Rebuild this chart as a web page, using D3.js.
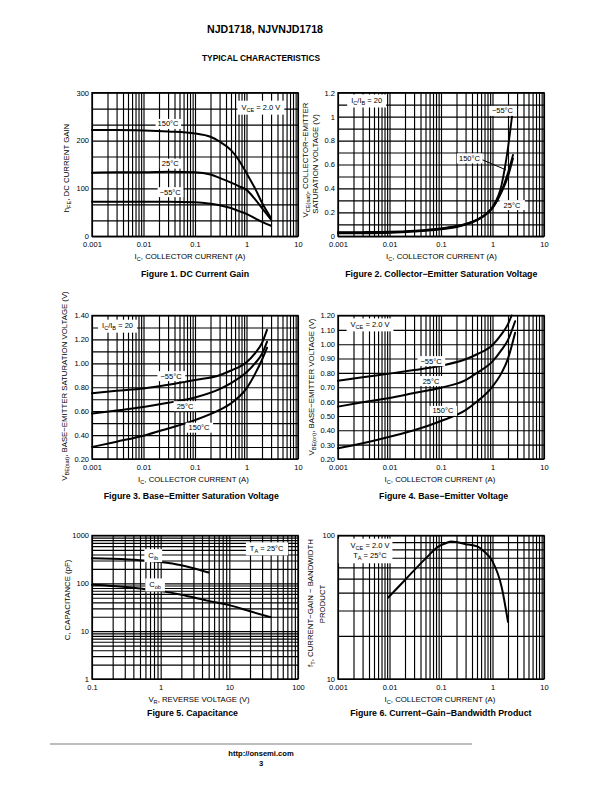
<!DOCTYPE html>
<html><head><meta charset="utf-8">
<script src="https://cdn.jsdelivr.net/npm/d3@7"></script>
<style>
body{margin:0;background:#fff}
svg{display:block}
text{font-family:"Liberation Sans",Arial,Helvetica,sans-serif;fill:#000}
</style>
</head><body>
<svg id="page" width="612" height="792"></svg>
<script>
// ---------------- DATA ----------------
// Figure 1: DC current gain vs collector current
const fig1Ic      = [0.001, 0.003, 0.01, 0.03, 0.1, 0.2, 0.3, 0.5, 0.7, 1, 1.5, 2, 3];
const fig1Hfe150  = [222, 222, 221, 219, 215, 208, 198, 180, 160, 132, 98, 70, 38];
const fig1Hfe25   = [133, 134, 134, 135, 134, 129, 122, 112, 105, 97, 76, 59, 35];
const fig1HfeM55  = [72, 72, 72, 72, 71, 68, 65, 59, 53, 47, 37, 30, 22];
const fig1XTicks  = [0.001, 0.01, 0.1, 1, 10];
const fig1YTicks  = [0, 100, 200, 300];

// Figure 2: VCE(sat)
const fig2Ic      = [0.001, 0.003, 0.01, 0.03, 0.1, 0.2, 0.3, 0.5, 0.7, 1, 1.5, 2, 2.5];
const fig2VceM55  = [0.025, 0.026, 0.030, 0.040, 0.058, 0.078, 0.098, 0.135, 0.175, 0.245, 0.43, 0.74, 1.07];
const fig2Vce25   = [0.030, 0.031, 0.034, 0.043, 0.062, 0.082, 0.100, 0.135, 0.172, 0.235, 0.38, 0.53, 0.68];
const fig2Vce150  = [0.034, 0.035, 0.038, 0.047, 0.066, 0.086, 0.104, 0.140, 0.178, 0.240, 0.37, 0.50, 0.65];
const fig2XTicks  = [0.001, 0.01, 0.1, 1, 10];
const fig2YTicks  = [0, 0.2, 0.4, 0.6, 0.8, 1, 1.2];

// Figure 3: VBE(sat)
const fig3Ic      = [0.001, 0.003, 0.01, 0.03, 0.1, 0.3, 0.5, 1, 1.5, 2, 2.5];
const fig3VbeM55  = [0.75, 0.77, 0.79, 0.82, 0.86, 0.90, 0.94, 1.01, 1.09, 1.17, 1.28];
const fig3Vbe25   = [0.58, 0.605, 0.635, 0.67, 0.715, 0.785, 0.835, 0.925, 1.005, 1.08, 1.18];
const fig3Vbe150  = [0.30, 0.345, 0.395, 0.455, 0.525, 0.61, 0.665, 0.79, 0.92, 1.03, 1.13];
const fig3XTicks  = [0.001, 0.01, 0.1, 1, 10];
const fig3YTicks  = [0.2, 0.4, 0.6, 0.8, 1.0, 1.2, 1.4];

// Figure 4: VBE(on)
const fig4IcM55   = [0.001, 0.003, 0.01, 0.03, 0.1, 0.3, 0.5, 1, 1.5, 2, 2.35];
const fig4VbeM55  = [0.745, 0.77, 0.795, 0.82, 0.85, 0.895, 0.93, 0.995, 1.07, 1.14, 1.20];
const fig4Ic      = [0.001, 0.003, 0.01, 0.03, 0.1, 0.3, 0.5, 1, 1.5, 2, 2.75];
const fig4Vbe25   = [0.565, 0.595, 0.625, 0.66, 0.697, 0.75, 0.80, 0.88, 0.96, 1.03, 1.16];
const fig4Vbe150  = [0.275, 0.31, 0.355, 0.40, 0.465, 0.54, 0.60, 0.705, 0.80, 0.90, 1.08];
const fig4XTicks  = [0.001, 0.01, 0.1, 1, 10];
const fig4YTicks  = [0.2, 0.3, 0.4, 0.5, 0.6, 0.7, 0.8, 0.9, 1.0, 1.1, 1.2];

// Figure 5: capacitance
const fig5VrCib   = [0.1, 0.2, 0.5, 1, 2, 3, 5];
const fig5Cib     = [335, 325, 304, 278, 238, 207, 168];
const fig5VrCob   = [0.1, 0.2, 0.5, 1, 2, 5, 10, 20, 40];
const fig5Cob     = [93, 88, 78, 69, 58, 43, 35, 26, 19.5];
const fig5XTicks  = [0.1, 1, 10, 100];
const fig5YTicks  = [1, 10, 100, 1000];

// Figure 6: fT
const fig6Ic      = [0.0095, 0.02, 0.05, 0.09, 0.12, 0.16, 0.2, 0.3, 0.5, 0.7, 1, 1.5, 2];
const fig6Ft      = [37, 49, 69, 84, 88, 91, 90, 87, 84, 77, 66, 44, 25];
const fig6XTicks  = [0.001, 0.01, 0.1, 1, 10];
const fig6YTicks  = [10, 100];

// ---------------- DRAWING ----------------
const svg = d3.select("#page");
const FS = 7.5, TFS = 7.8, SUB = 5.6;

function rich(sel, str, subSize) {
  const re = /_\{([^}]*)\}/g; let last = 0, m; const parts = [];
  while ((m = re.exec(str))) {
    if (m.index > last) parts.push([str.slice(last, m.index), false]);
    parts.push([m[1], true]); last = re.lastIndex;
  }
  if (last < str.length) parts.push([str.slice(last), false]);
  let shifted = 0;
  parts.forEach(([t, isSub]) => {
    const ts = sel.append("tspan").text(t);
    if (isSub) { ts.attr("font-size", subSize || SUB); if (!shifted) { ts.attr("dy", 2); shifted = 2; } }
    else if (shifted) { ts.attr("dy", -shifted); shifted = 0; }
  });
  return sel;
}

function logGrid(dom) {
  const out = [];
  const a = Math.round(Math.log10(dom[0])), b = Math.round(Math.log10(dom[1]));
  for (let k = a; k < b; k++) for (let i = 1; i <= 9; i++) out.push(i * Math.pow(10, k));
  out.push(Math.pow(10, b));
  return out;
}

function panel(cfg) {
  const g = svg.append("g");
  const [L, R] = cfg.xr, [T, B] = cfg.yr;
  const x = d3.scaleLog().domain(cfg.xDomain).range([L, R]);
  const y = (cfg.yLog ? d3.scaleLog() : d3.scaleLinear()).domain(cfg.yDomain).range([B, T]);
  const xg = logGrid(cfg.xDomain);
  const yg = cfg.yLog ? logGrid(cfg.yDomain)
    : d3.range(cfg.yDiv + 1).map(i => cfg.yDomain[0] + i * (cfg.yDomain[1] - cfg.yDomain[0]) / cfg.yDiv);

  // grid via axes
  const gx = g.append("g").attr("transform", `translate(0,${B})`)
    .call(d3.axisBottom(x).tickValues(xg).tickSize(-(B - T)).tickFormat(""));
  const gy = g.append("g").attr("transform", `translate(${L},0)`)
    .call(d3.axisLeft(y).tickValues(yg).tickSize(-(R - L)).tickFormat(""));
  [gx, gy].forEach(s => { s.select(".domain").remove(); s.selectAll("line").attr("stroke", "#000").attr("stroke-width", 1.15); });

  // tick labels via axes
  const lx = g.append("g").attr("transform", `translate(0,${B})`)
    .call(d3.axisBottom(x).tickValues(cfg.xTicks).tickSize(0).tickPadding(5.5).tickFormat(d => String(d)));
  const ly = g.append("g").attr("transform", `translate(${L},0)`)
    .call(d3.axisLeft(y).tickValues(cfg.yTicks).tickSize(0).tickPadding(3).tickFormat(cfg.yFmt || (d => String(d))));
  [lx, ly].forEach(s => { s.select(".domain").remove(); s.selectAll("text").attr("font-size", FS).attr("font-family", null).attr("fill", "#000"); });

  // frame
  g.append("rect").attr("x", L).attr("y", T).attr("width", R - L).attr("height", B - T)
    .attr("fill", "none").attr("stroke", "#000").attr("stroke-width", 1.4);

  // curves
  const line = d3.line().x(d => x(d[0])).y(d => y(d[1])).curve(d3.curveMonotoneX);
  cfg.series.forEach(s => {
    g.append("path").datum(d3.zip(s.x, s.y)).attr("d", line)
      .attr("fill", "none").attr("stroke", "#000").attr("stroke-width", s.w || 2)
      .attr("stroke-linejoin", "round").attr("stroke-linecap", "round");
  });

  // leader lines
  (cfg.leaders || []).forEach(l => {
    g.append("line").attr("x1", x(l[0])).attr("y1", y(l[1])).attr("x2", x(l[2])).attr("y2", y(l[3]))
      .attr("stroke", "#000").attr("stroke-width", 1);
  });

  // annotations with white boxes
  (cfg.notes || []).forEach(n => {
    const lines = Array.isArray(n.t) ? n.t : [n.t];
    const ng = g.append("g");
    const rect = ng.append("rect").attr("fill", "#fff");
    const texts = lines.map((t, i) => {
      const tx = ng.append("text").attr("text-anchor", "middle").attr("font-size", FS)
        .attr("x", x(n.x)).attr("y", y(n.y) + FS * 0.35 + i * (n.lh || 10.7));
      rich(tx, t);
      return tx;
    });
    let x0 = Infinity, y0 = Infinity, x1 = -Infinity, y1 = -Infinity;
    texts.forEach(tx => { const b = tx.node().getBBox(); x0 = Math.min(x0, b.x); y0 = Math.min(y0, b.y); x1 = Math.max(x1, b.x + b.width); y1 = Math.max(y1, b.y + b.height); });
    const px = n.px == null ? 2 : n.px, py = n.py == null ? 0.5 : n.py;
    let rx0 = x0 - px, rx1 = x1 + px;
    if (n.toLeft) rx0 = L + 0.7;
    rect.attr("x", rx0).attr("y", y0 - py).attr("width", rx1 - rx0).attr("height", y1 - y0 + 2 * py);
  });

  // axis titles
  const xt = g.append("text").attr("text-anchor", "middle").attr("font-size", TFS)
    .attr("x", cfg.xTitleX).attr("y", B + 23);
  rich(xt, cfg.xTitle);
  cfg.yTitle.forEach(t => {
    const yt = g.append("text").attr("text-anchor", "middle").attr("font-size", TFS)
      .attr("transform", `translate(${t.bx},${t.cy}) rotate(-90)`);
    rich(yt, t.s);
  });
  // caption
  g.append("text").attr("text-anchor", "middle").attr("font-size", 8.8).attr("font-weight", "bold")
    .attr("x", cfg.capX).attr("y", cfg.capY).text(cfg.caption);
}

const LEFT = [92, 298], RIGHT = [338, 544];
const ROW1 = [92.7, 236.3], ROW2 = [315.5, 459], ROW3 = [535.5, 679];
const ICT = "I_{C}, COLLECTOR CURRENT (A)";

// header
svg.append("text").attr("x", 265).attr("y", 33).attr("text-anchor", "middle")
  .attr("font-size", 10.6).attr("font-weight", "bold").text("NJD1718, NJVNJD1718");
svg.append("text").attr("x", 261).attr("y", 60.7).attr("text-anchor", "middle")
  .attr("font-size", 8.4).attr("font-weight", "bold").text("TYPICAL CHARACTERISTICS");

// Figure 1
panel({
  xr: LEFT, yr: ROW1, xDomain: [0.001, 10], yDomain: [0, 300], yDiv: 9,
  xTicks: fig1XTicks, yTicks: fig1YTicks,
  series: [{ x: fig1Ic, y: fig1Hfe150 }, { x: fig1Ic, y: fig1Hfe25 }, { x: fig1Ic, y: fig1HfeM55 }],
  notes: [
    { t: "150°C", x: 0.030, y: 235 },
    { t: "25°C", x: 0.033, y: 152 },
    { t: "−55°C", x: 0.033, y: 92.5 },
    { t: "V_{CE} = 2.0 V", x: 1.9, y: 270, px: 4, py: 2 }
  ],
  xTitle: ICT, xTitleX: 190,
  yTitle: [{ s: "h_{FE}, DC CURRENT GAIN", bx: 69, cy: 168 }],
  caption: "Figure 1. DC Current Gain", capX: 195, capY: 277
});

// Figure 2
panel({
  xr: RIGHT, yr: ROW1, xDomain: [0.001, 10], yDomain: [0, 1.2], yDiv: 12,
  xTicks: fig2XTicks, yTicks: fig2YTicks,
  series: [{ x: fig2Ic, y: fig2VceM55, w: 1.9 }, { x: fig2Ic, y: fig2Vce25, w: 1.9 }, { x: fig2Ic, y: fig2Vce150, w: 1.9 }],
  leaders: [[0.63, 0.64, 1.83, 0.555]],
  notes: [
    { t: "I_{C}/I_{B} = 20", x: 0.0036, y: 1.136, px: 4, py: 1.5 },
    { t: "−55°C", x: 1.56, y: 1.049 },
    { t: "150°C", x: 0.357, y: 0.652 },
    { t: "25°C", x: 2.39, y: 0.262, px: 4 }
  ],
  xTitle: ICT, xTitleX: 441.5,
  yTitle: [{ s: "V_{CE(sat)}, COLLECTOR−EMITTER", bx: 308, cy: 160 },
           { s: "SATURATION VOLTAGE (V)", bx: 317.5, cy: 164 }],
  caption: "Figure 2. Collector−Emitter Saturation Voltage", capX: 441.3, capY: 277
});

// Figure 3
panel({
  xr: LEFT, yr: ROW2, xDomain: [0.001, 10], yDomain: [0.2, 1.4], yDiv: 12,
  xTicks: fig3XTicks, yTicks: fig3YTicks, yFmt: d3.format(".2f"),
  series: [{ x: fig3Ic, y: fig3VbeM55 }, { x: fig3Ic, y: fig3Vbe25 }, { x: fig3Ic, y: fig3Vbe150 }],
  notes: [
    { t: "I_{C}/I_{B} = 20", x: 0.00313, y: 1.316, px: 4, py: 1.5 },
    { t: "−55°C", x: 0.0342, y: 0.894, px: 3 },
    { t: "25°C", x: 0.064, y: 0.643, px: 3 },
    { t: "150°C", x: 0.12, y: 0.463, px: 3 }
  ],
  xTitle: ICT, xTitleX: 193.5,
  yTitle: [{ s: "V_{BE(sat)}, BASE−EMITTER SATURATION VOLTAGE (V)", bx: 67, cy: 386 }],
  caption: "Figure 3. Base−Emitter Saturation Voltage", capX: 191.3, capY: 499
});

// Figure 4
panel({
  xr: RIGHT, yr: ROW2, xDomain: [0.001, 10], yDomain: [0.2, 1.2], yDiv: 10,
  xTicks: fig4XTicks, yTicks: fig4YTicks, yFmt: d3.format(".2f"),
  series: [{ x: fig4IcM55, y: fig4VbeM55 }, { x: fig4Ic, y: fig4Vbe25 }, { x: fig4Ic, y: fig4Vbe150 }],
  notes: [
    { t: "V_{CE} = 2.0 V", x: 0.00418, y: 1.139, px: 4, py: 1.5 },
    { t: "−55°C", x: 0.064, y: 0.883, px: 3 },
    { t: "25°C", x: 0.064, y: 0.744, px: 3 },
    { t: "150°C", x: 0.109, y: 0.536, px: 3 }
  ],
  xTitle: ICT, xTitleX: 440,
  yTitle: [{ s: "V_{BE(on)}, BASE−EMITTER VOLTAGE (V)", bx: 314, cy: 387 }],
  caption: "Figure 4. Base−Emitter Voltage", capX: 443.7, capY: 499
});

// Figure 5
panel({
  xr: LEFT, yr: ROW3, xDomain: [0.1, 100], yDomain: [1, 1000], yLog: true,
  xTicks: fig5XTicks, yTicks: fig5YTicks,
  series: [{ x: fig5VrCib, y: fig5Cib }, { x: fig5VrCob, y: fig5Cob }],
  notes: [
    { t: "C_{ib}", x: 0.78, y: 391, px: 4, py: 1.5 },
    { t: "C_{ob}", x: 0.83, y: 95.5, px: 4, py: 1.5 },
    { t: "T_{A} = 25°C", x: 35, y: 541, px: 4, py: 1.5 }
  ],
  xTitle: "V_{R}, REVERSE VOLTAGE (V)", xTitleX: 199,
  yTitle: [{ s: "C, CAPACITANCE (pF)", bx: 70, cy: 600 }],
  caption: "Figure 5. Capacitance", capX: 192.5, capY: 715.7
});

// Figure 6
panel({
  xr: RIGHT, yr: ROW3, xDomain: [0.001, 10], yDomain: [10, 100], yLog: true,
  xTicks: fig6XTicks, yTicks: fig6YTicks,
  series: [{ x: fig6Ic, y: fig6Ft }],
  notes: [
    { t: ["V_{CE} = 2.0 V", "T_{A} = 25°C"], x: 0.00418, y: 85.9, lh: 10.7, px: 3, py: 2, toLeft: true }
  ],
  xTitle: ICT, xTitleX: 440,
  yTitle: [{ s: "f_{T}, CURRENT−GAIN − BANDWIDTH", bx: 313, cy: 603 },
           { s: "PRODUCT", bx: 324.5, cy: 604 }],
  caption: "Figure 6. Current−Gain−Bandwidth Product", capX: 440.8, capY: 715.7
});

// footer
svg.append("line").attr("x1", 50).attr("x2", 472).attr("y1", 744).attr("y2", 744)
  .attr("stroke", "#bdbdbd").attr("stroke-width", 2);
svg.append("text").attr("x", 261).attr("y", 755.5).attr("text-anchor", "middle")
  .attr("font-size", 7.6).attr("font-weight", "bold").text("http://onsemi.com");
svg.append("text").attr("x", 261).attr("y", 765.5).attr("text-anchor", "middle")
  .attr("font-size", 7.6).attr("font-weight", "bold").text("3");
</script>
</body></html>
